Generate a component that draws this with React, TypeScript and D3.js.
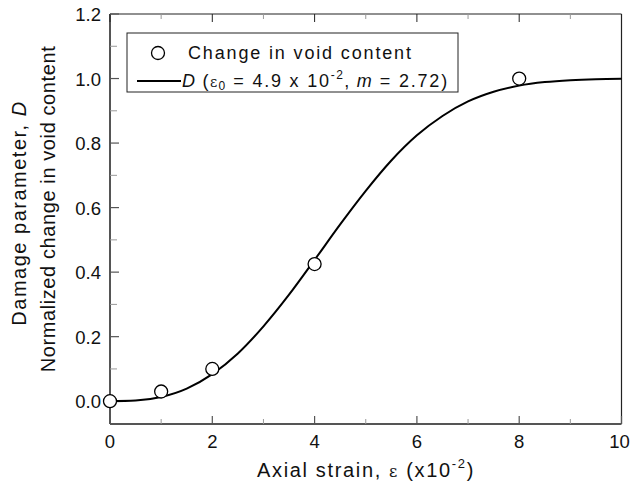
import React from "react";
import * as d3 from "d3";

const pointX = [0, 1, 2, 4, 8];
const pointY = [0, 0.03, 0.1, 0.425, 1.0];

const curveX = [0, 0.5, 1, 1.5, 2, 2.5, 3, 3.5, 4, 4.5, 5, 5.5, 6, 6.5, 7, 7.5, 8, 8.5, 9, 9.5, 10];
const curveY = [0, 0.002, 0.013, 0.039, 0.084, 0.148, 0.232, 0.33, 0.438, 0.548, 0.652, 0.746, 0.824, 0.884, 0.929, 0.959, 0.978, 0.989, 0.995, 0.998, 0.999];

const xMajor = [0, 2, 4, 6, 8, 10];
const xMinor = [1, 3, 5, 7, 9];
const yMajor = [0, 0.2, 0.4, 0.6, 0.8, 1.0, 1.2];
const yMinor = [0.1, 0.3, 0.5, 0.7, 0.9, 1.1];

const W = 630, H = 488;
const L = 110, R = 621.5, T = 14, B = 424;
const font = "Arial, 'Liberation Sans', sans-serif";

export default function App() {
  const x = d3.scaleLinear().domain([0, 10]).range([L, R]);
  const y = d3.scaleLinear().domain([0, 1.2]).range([401.2, T]);
  const line = d3.line<number>().x((_, i) => x(curveX[i])).y((d) => y(d)).curve(d3.curveMonotoneX);
  const axisColor = "#555";
  return (
    <svg width={W} height={H} style={{ position: "absolute", left: 0, top: 0 }} fontFamily={font}>
      <rect x={0} y={0} width={W} height={H} fill="#fff" />
      {/* frame */}
      <line x1={L} x2={R} y1={T} y2={T} stroke="#222" strokeWidth={1.2} />
      <line x1={R} x2={R} y1={T} y2={B} stroke="#222" strokeWidth={1.2} />
      <line x1={L} x2={L} y1={T} y2={B} stroke={axisColor} strokeWidth={2} />
      <line x1={L} x2={R} y1={B} y2={B} stroke={axisColor} strokeWidth={2} />
      {/* x ticks */}
      {xMajor.map((v) => (
        <g key={"xm" + v}>
          <line x1={x(v)} x2={x(v)} y1={B} y2={B - 8} stroke={axisColor} strokeWidth={1.2} />
          <line x1={x(v)} x2={x(v)} y1={T} y2={T + 8} stroke="#222" strokeWidth={1} />
          <text x={Math.min(x(v), 619.5)} y={448} fontSize={18.5} textAnchor="middle" fill="#111">{v}</text>
        </g>
      ))}
      {xMinor.map((v) => (
        <g key={"xn" + v}>
          <line x1={x(v)} x2={x(v)} y1={B} y2={B - 5} stroke="#999" strokeWidth={1} />
          <line x1={x(v)} x2={x(v)} y1={T} y2={T + 5} stroke="#999" strokeWidth={1} />
        </g>
      ))}
      {yMajor.map((v) => (
        <g key={"ym" + v}>
          <line x1={L} x2={L + 9} y1={y(v)} y2={y(v)} stroke={axisColor} strokeWidth={1.2} />
          <text x={L - 9} y={y(v) + 7} fontSize={18.5} textAnchor="end" fill="#111">{v.toFixed(1)}</text>
        </g>
      ))}
      {yMinor.map((v) => (
        <line key={"yn" + v} x1={L} x2={L + 7} y1={y(v)} y2={y(v)} stroke="#999" strokeWidth={1} />
      ))}
      {/* curve */}
      <path d={line(curveY) || ""} fill="none" stroke="#000" strokeWidth={2} />
      {/* points */}
      {pointX.map((v, i) => (
        <circle key={"p" + i} cx={x(v)} cy={y(pointY[i])} r={6.5} fill="#fff" stroke="#000" strokeWidth={1.3} />
      ))}
      {/* legend */}
      <rect x={127} y={33} width={331} height={59} fill="#fff" stroke="#222" strokeWidth={1} />
      <circle cx={158} cy={53} r={6.5} fill="#fff" stroke="#000" strokeWidth={1.3} />
      <text x={188} y={59} fontSize={18} letterSpacing={1.85} fill="#111">Change in void content</text>
      <line x1={137} x2={181} y1={81} y2={81} stroke="#000" strokeWidth={2} />
      <text x={182} y={87} fontSize={18} letterSpacing={1.3} fill="#111" xmlSpace="preserve">
        <tspan fontStyle="italic">D</tspan>
        <tspan> (</tspan>
        <tspan fontFamily="'DejaVu Serif', serif" fontSize={14}>ε</tspan>
        <tspan fontSize={12} dy={3}>0</tspan>
        <tspan dy={-3} letterSpacing={1.8}> = 4.9 x 10</tspan>
        <tspan fontSize={12} dy={-8}>-2</tspan>
        <tspan dy={8}>, </tspan>
        <tspan fontStyle="italic">m</tspan>
        <tspan letterSpacing={1.8}> = 2.72)</tspan>
      </text>
      {/* x label */}
      <text x={366} y={477} fontSize={20} letterSpacing={1.65} textAnchor="middle" fill="#111">
        <tspan>Axial strain, </tspan>
        <tspan fontFamily="'DejaVu Serif', serif" fontSize={16}>ε</tspan>
        <tspan> (x10</tspan>
        <tspan fontSize={13} dy={-9}>-2</tspan>
        <tspan dy={9}>)</tspan>
      </text>
      {/* y labels */}
      <text transform="translate(26,213) rotate(-90)" fontSize={20} letterSpacing={1.5} textAnchor="middle" fill="#111">
        <tspan>Damage parameter, </tspan>
        <tspan fontStyle="italic">D</tspan>
      </text>
      <text transform="translate(55,209) rotate(-90)" fontSize={20} letterSpacing={0.6} textAnchor="middle" fill="#111">
        Normalized change in void content
      </text>
    </svg>
  );
}
